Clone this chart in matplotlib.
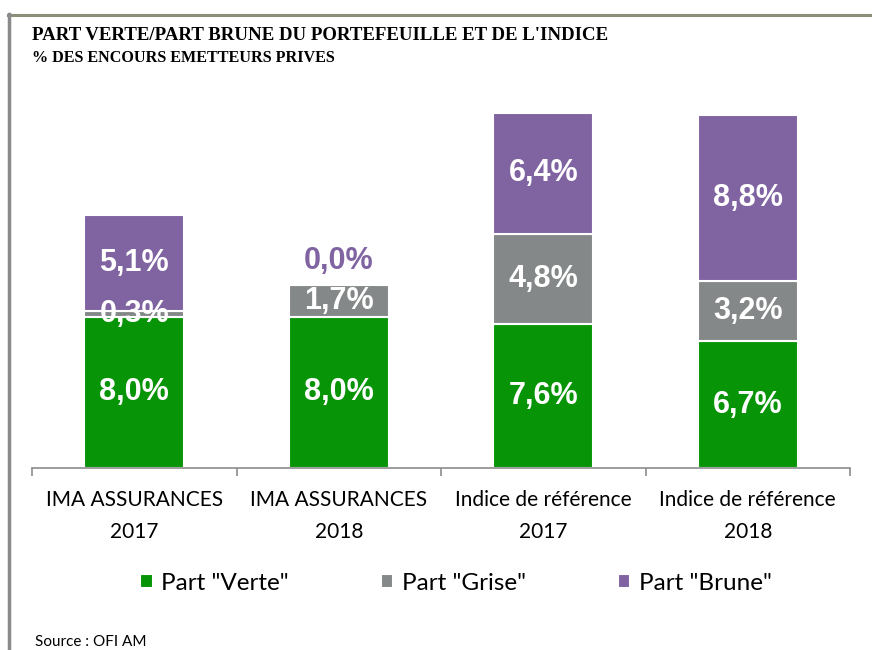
import matplotlib.pyplot as plt
from matplotlib.lines import Line2D
import numpy as np

# Data
CATEGORIES = ["IMA ASSURANCES\n2017", "IMA ASSURANCES\n2018",
              "Indice de référence\n2017", "Indice de référence\n2018"]
VERTE = [8.0, 8.0, 7.6, 6.7]
GRISE = [0.3, 1.7, 4.8, 3.2]
BRUNE = [5.1, 0.0, 6.4, 8.8]
SERIES = ['Part "Verte"', 'Part "Grise"', 'Part "Brune"']

COLORS = ["#079407", "#848888", "#8064a2"]

TITLE = "PART VERTE/PART BRUNE DU PORTEFEUILLE ET DE L'INDICE"
SUBTITLE = "% DES ENCOURS EMETTEURS PRIVES"
SOURCE = "Source : OFI AM"


def fmt(v):
    return f"{v:.1f}%".replace(".", ",")


fig = plt.figure(figsize=(8.72, 6.5), dpi=100)
ax = fig.add_axes([32 / 872, 1 - 468 / 650, (850 - 32) / 872, (468 - 90) / 650])

x = np.arange(len(CATEGORIES))
width = 0.49
bottom = np.zeros(len(CATEGORIES))
for name, vals, col in zip(SERIES, [VERTE, GRISE, BRUNE], COLORS):
    bars = ax.bar(x, vals, width, bottom=bottom, color=col, label=name,
                  edgecolor="white", linewidth=1.5)
    for b, v, b0 in zip(bars, vals, bottom):
        cx = b.get_x() + b.get_width() / 2
        if v == 0:
            # zero segment: label sits above the bar in the series colour
            ax.annotate(fmt(v), (cx, b0), xytext=(0, 17), textcoords="offset points",
                        ha="center", va="center", color=col, fontsize=22,
                        fontweight="bold", family="Liberation Sans")
        else:
            ax.text(cx, b0 + v / 2, fmt(v), ha="center", va="center",
                    color="white", fontsize=22, fontweight="bold",
                    family="Liberation Sans")
    bottom = bottom + np.array(vals)

ax.set_xlim(-0.5, len(CATEGORIES) - 0.5)
ax.set_ylim(0, 20)
ax.yaxis.set_visible(False)
for s in ["top", "left", "right"]:
    ax.spines[s].set_visible(False)
ax.spines["bottom"].set_color("#8c8c8c")
ax.spines["bottom"].set_linewidth(1.2)

ax.set_xticks(x)
ax.set_xticklabels(CATEGORIES, fontsize=15, family="Lato", linespacing=1.75)
ax.set_xticks(np.arange(len(CATEGORIES) + 1) - 0.5, minor=True)
ax.tick_params(axis="x", which="major", length=0, pad=16, colors="#000000")
ax.tick_params(axis="x", which="minor", length=6, color="#8c8c8c", width=1.2)

fig.legend(loc="center", bbox_to_anchor=(456 / 872, 1 - 583 / 650), ncol=3,
           frameon=False, prop={"family": "Lato", "size": 17.5},
           handlelength=0.5, handleheight=0.5, handletextpad=0.35,
           columnspacing=3.8)

fig.text(32 / 872, 1 - 36 / 650, TITLE, fontsize=13.6, family="Liberation Serif",
         fontweight="bold", va="center", ha="left")
fig.text(32 / 872, 1 - 58 / 650, SUBTITLE, fontsize=11.6, family="Liberation Serif",
         fontweight="bold", va="center", ha="left")
fig.text(35 / 872, 1 - 642 / 650, SOURCE, fontsize=11, family="Lato",
         va="center", ha="left")

# Frame lines
fig.add_artist(Line2D([8 / 872, 1], [1 - 15 / 650] * 2, color="#8a8f7a", lw=2.2,
                      transform=fig.transFigure))
fig.add_artist(Line2D([9 / 872] * 2, [1 - 14 / 650, 0], color="#8a8a8a", lw=2.5,
                      transform=fig.transFigure))

fig.savefig("out.png", dpi=100)
